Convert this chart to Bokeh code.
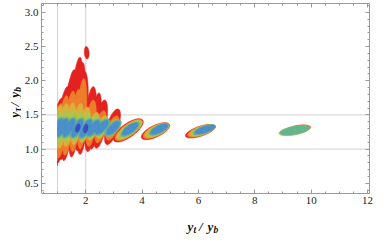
import numpy as np
from bokeh.plotting import figure
from bokeh.layouts import row, column
from bokeh.models import Span, FixedTicker, LinearAxis, Range1d, PrintfTickFormatter
from bokeh.core.properties import value
from bokeh.embed import file_html
from bokeh.resources import INLINE

# ---------------- axes / ticks ----------------
x_start, x_end = 0.43, 12.07
y_start, y_end = 0.35, 3.13
x_major = [2, 4, 6, 8, 10, 12]
x_minor = [0.5, 1, 1.5, 2.5, 3, 3.5, 4.5, 5, 5.5, 6.5, 7, 7.5,
           8.5, 9, 9.5, 10.5, 11, 11.5]
y_major = [0.5, 1.0, 1.5, 2.0, 2.5, 3.0]
y_minor = [round(0.4 + 0.1 * i, 1) for i in range(28)]
grid_x = [1.0, 2.0]
grid_y = [1.0, 1.5]
yt_min = 1.0  # region starts at y_t / y_b = 1

# ---------------- contour regions ----------------
# each entry: (x_a, y_a, x_b, y_b, half_width): long-axis end points of a region, half thickness (y units)
red_regions = [
    (0.780, 0.752, 1.153, 1.744, 0.078),
    (0.983, 0.791, 1.356, 1.914, 0.075),
    (1.119, 0.843, 1.525, 2.057, 0.062),
    (1.220, 0.830, 1.593, 2.162, 0.075),
    (1.492, 0.883, 1.797, 2.345, 0.078),
    (1.695, 0.974, 1.898, 2.266, 0.062),
    (1.797, 0.922, 1.966, 2.136, 0.075),
    (2.017, 2.501, 2.051, 2.319, 0.033),
    (2.068, 0.961, 2.271, 1.914, 0.075),
    (2.203, 1.000, 2.475, 1.822, 0.062),
    (2.373, 1.013, 2.678, 1.718, 0.078),
    (2.746, 1.065, 3.153, 1.587, 0.080),
    (3.000, 1.121, 4.017, 1.427, 0.098),
    (3.980, 1.161, 4.969, 1.362, 0.085),
    (5.542, 1.188, 6.593, 1.334, 0.072),
    (9.125, 1.264, 9.925, 1.324, 0.052),
]
orange_regions = [
    (0.814, 0.830, 1.119, 1.666, 0.068),
    (1.017, 0.869, 1.322, 1.783, 0.066),
    (1.254, 0.909, 1.559, 1.849, 0.066),
    (1.525, 0.961, 1.763, 1.875, 0.066),
    (1.797, 1.000, 1.932, 2.031, 0.062),
    (2.102, 1.039, 2.271, 1.718, 0.066),
    (2.407, 1.091, 2.644, 1.561, 0.068),
    (2.780, 1.131, 3.119, 1.483, 0.070),
    (3.058, 1.137, 3.993, 1.419, 0.086),
    (4.041, 1.174, 4.956, 1.362, 0.078),
    (5.614, 1.198, 6.590, 1.334, 0.067),
    (9.027, 1.251, 9.990, 1.324, 0.056),
]
gold_regions = [
    (0.847, 0.987, 1.119, 1.640, 0.065),
    (1.051, 1.013, 1.322, 1.666, 0.065),
    (1.288, 1.039, 1.559, 1.679, 0.065),
    (1.559, 1.065, 1.831, 1.666, 0.065),
    (1.864, 1.091, 2.068, 1.614, 0.065),
    (2.136, 1.131, 2.407, 1.535, 0.065),
    (2.441, 1.157, 2.712, 1.483, 0.065),
    (2.780, 1.183, 3.119, 1.431, 0.065),
    (3.108, 1.151, 3.976, 1.413, 0.078),
    (4.105, 1.188, 4.946, 1.360, 0.072),
    (5.685, 1.208, 6.586, 1.336, 0.061),
]
lime_regions = [
    (0.847, 1.078, 1.119, 1.548, 0.063),
    (1.051, 1.091, 1.322, 1.561, 0.063),
    (1.288, 1.104, 1.559, 1.561, 0.063),
    (1.559, 1.117, 1.831, 1.548, 0.063),
    (1.864, 1.131, 2.102, 1.535, 0.063),
    (2.136, 1.157, 2.407, 1.496, 0.063),
    (2.441, 1.183, 2.746, 1.457, 0.063),
    (2.780, 1.196, 3.153, 1.418, 0.063),
    (3.159, 1.167, 3.959, 1.407, 0.069),
    (4.176, 1.202, 4.942, 1.359, 0.065),
    (5.746, 1.218, 6.593, 1.336, 0.056),
    (8.858, 1.228, 9.922, 1.307, 0.063),
]
teal_regions = [
    (0.776, 1.163, 1.190, 1.463, 0.072),
    (0.946, 1.163, 1.359, 1.463, 0.072),
    (1.200, 1.163, 1.614, 1.463, 0.072),
    (1.488, 1.157, 1.902, 1.457, 0.072),
    (1.793, 1.150, 2.207, 1.450, 0.072),
    (2.041, 1.179, 2.502, 1.436, 0.072),
    (2.325, 1.205, 2.827, 1.435, 0.072),
    (2.705, 1.195, 3.227, 1.419, 0.072),
    (3.254, 1.193, 3.898, 1.386, 0.063),
    (4.249, 1.217, 4.937, 1.358, 0.059),
    (5.805, 1.226, 6.602, 1.338, 0.052),
    (8.892, 1.234, 9.956, 1.314, 0.059),
]
blue_regions = [
    (0.807, 1.187, 1.159, 1.440, 0.050),
    (0.976, 1.187, 1.329, 1.440, 0.050),
    (1.231, 1.187, 1.583, 1.440, 0.050),
    (1.519, 1.180, 1.871, 1.433, 0.050),
    (1.824, 1.174, 2.176, 1.427, 0.050),
    (2.078, 1.200, 2.464, 1.414, 0.050),
    (2.369, 1.225, 2.783, 1.415, 0.050),
    (2.749, 1.214, 3.183, 1.400, 0.050),
    (3.308, 1.213, 3.844, 1.375, 0.052),
    (4.312, 1.232, 4.908, 1.355, 0.050),
    (5.871, 1.236, 6.603, 1.338, 0.046),
]
navy_regions = [
    (1.678, 1.247, 1.763, 1.371, 0.029),
    (1.966, 1.235, 2.034, 1.366, 0.029),
]
level_regions = [red_regions, orange_regions, gold_regions, lime_regions,
                 teal_regions, blue_regions, navy_regions]
level_colors = ["#E2231F", "#EE7D2B", "#D8B13C", "#AFC44E",
                "#66B48E", "#4A8FC9", "#3A4CC0"]

# axis titles: (piece, subscript?)
x_title = [("y", False), ("t", True), ("/", False), ("y", False), ("b", True)]
y_title = [("y", False), ("\u03c4", True), ("/", False), ("y", False), ("b", True)]
title_steps = [0, 5.9, 11.6, 20.0, 26.0]

# reference pixel-per-unit ratio, so that the ellipses are round on screen
SX, SY = 29.5, 76.6


def region_outline(xa, ya, xb, yb, hw, n=60):
    X1, Y1, X2, Y2 = xa * SX, ya * SY, xb * SX, yb * SY
    cx, cy = (X1 + X2) / 2, (Y1 + Y2) / 2
    dx, dy = X2 - X1, Y2 - Y1
    a = np.hypot(dx, dy) / 2
    ux, uy = dx / (2 * a), dy / (2 * a)
    vx, vy = -uy, ux
    b = hw * SY
    t = np.linspace(0, 2 * np.pi, n, endpoint=False)
    X = cx + a * np.cos(t) * ux + b * np.sin(t) * vx
    Y = cy + a * np.cos(t) * uy + b * np.sin(t) * vy
    xs = np.maximum(X / SX, yt_min)
    return list(xs), list(Y / SY)


# ---------------- layout sizes ----------------
YSTRIP_W = 21
MAIN_W, MAIN_H = 353, 212
XSTRIP_H = 24
B_LEFT, B_RIGHT, B_TOP, B_BOTTOM = 17, 5, 3, 19

p = figure(width=MAIN_W, height=MAIN_H,
           x_range=Range1d(x_start, x_end), y_range=Range1d(y_start, y_end),
           output_backend="svg", toolbar_location=None,
           min_border_left=B_LEFT, min_border_right=B_RIGHT,
           min_border_top=B_TOP, min_border_bottom=B_BOTTOM)
p.grid.visible = False
p.outline_line_color = None

for gx in grid_x:
    p.add_layout(Span(location=gx, dimension="height", line_color="#d2d2d2",
                      line_width=1, level="underlay"))
for gy in grid_y:
    p.add_layout(Span(location=gy, dimension="width", line_color="#d2d2d2",
                      line_width=1, level="underlay"))

for regions, col in zip(level_regions, level_colors):
    xs, ys = [], []
    for r in regions:
        ox, oy = region_outline(*r)
        xs.append(ox)
        ys.append(oy)
    p.patches(xs, ys, fill_color=col, line_color=col, line_width=0.5)

frame_col = "#9a9a9a"
serif = "Liberation Serif"


def style(ax, ticks, minor, labels=True):
    ax.ticker = FixedTicker(ticks=ticks, minor_ticks=minor)
    ax.axis_line_color = frame_col
    ax.major_tick_line_color = frame_col
    ax.minor_tick_line_color = frame_col
    ax.major_tick_in = 4
    ax.major_tick_out = 0
    ax.minor_tick_in = 2
    ax.minor_tick_out = 0
    if labels:
        ax.major_label_text_font = serif
        ax.major_label_text_font_size = "11px"
        ax.major_label_text_color = "#222222"
        ax.major_label_standoff = 3
    else:
        ax.major_label_overrides = {t: "" for t in ticks}
        ax.major_label_text_font_size = "0px"
        ax.major_label_standoff = 0


style(p.xaxis[0], x_major, x_minor)
style(p.yaxis[0], y_major, y_minor)
p.yaxis[0].formatter = PrintfTickFormatter(format="%.1f")
top_ax = LinearAxis()
right_ax = LinearAxis()
style(top_ax, x_major, x_minor, labels=False)
style(right_ax, y_major, y_minor, labels=False)
p.add_layout(top_ax, "above")
p.add_layout(right_ax, "right")

# ---------------- axis-title strips ----------------
frame_h = MAIN_H - B_TOP - B_BOTTOM
frame_w = MAIN_W - B_LEFT - B_RIGHT

yfig = figure(width=YSTRIP_W, height=MAIN_H, x_range=Range1d(0, YSTRIP_W),
              y_range=Range1d(0, frame_h), output_backend="svg",
              toolbar_location=None, x_axis_type=None, y_axis_type=None,
              min_border_left=0, min_border_right=0,
              min_border_top=B_TOP, min_border_bottom=B_BOTTOM)
yfig.grid.visible = False
yfig.outline_line_color = None

xfig = figure(width=YSTRIP_W + MAIN_W, height=XSTRIP_H,
              x_range=Range1d(0, YSTRIP_W + MAIN_W), y_range=Range1d(0, XSTRIP_H),
              output_backend="svg", toolbar_location=None,
              x_axis_type=None, y_axis_type=None,
              min_border_left=0, min_border_right=0,
              min_border_top=0, min_border_bottom=0)
xfig.grid.visible = False
xfig.outline_line_color = None

x_center = YSTRIP_W + B_LEFT + frame_w / 2
x_base = 10
y_center = frame_h * (1.70 - y_start) / (y_end - y_start)
y_base = 14
half_len = 16.5

for sub in (False, True):
    size = "9.5px" if sub else "13px"
    pieces = [(t, s) for (t, _), s in zip(x_title, title_steps) if _ == sub]
    xfig.text(x=[x_center - half_len + s for _, s in pieces],
              y=[x_base - (3 if sub else 0)] * len(pieces),
              text=[t for t, _ in pieces],
              text_font=value(serif), text_font_style="bold italic",
              text_font_size=size,
              text_color="#111111", text_align="left", text_baseline="alphabetic")
    pieces = [(t, s) for (t, _), s in zip(y_title, title_steps) if _ == sub]
    yfig.text(x=[y_base + (3 if sub else 0)] * len(pieces),
              y=[y_center - half_len + s for _, s in pieces],
              text=[t for t, _ in pieces], angle=np.pi / 2,
              text_font=value(serif), text_font_style="bold italic",
              text_font_size=size,
              text_color="#111111", text_align="left", text_baseline="alphabetic")

layout = column(row(yfig, p), xfig)
open("out.html", "w").write(file_html(layout, INLINE))
